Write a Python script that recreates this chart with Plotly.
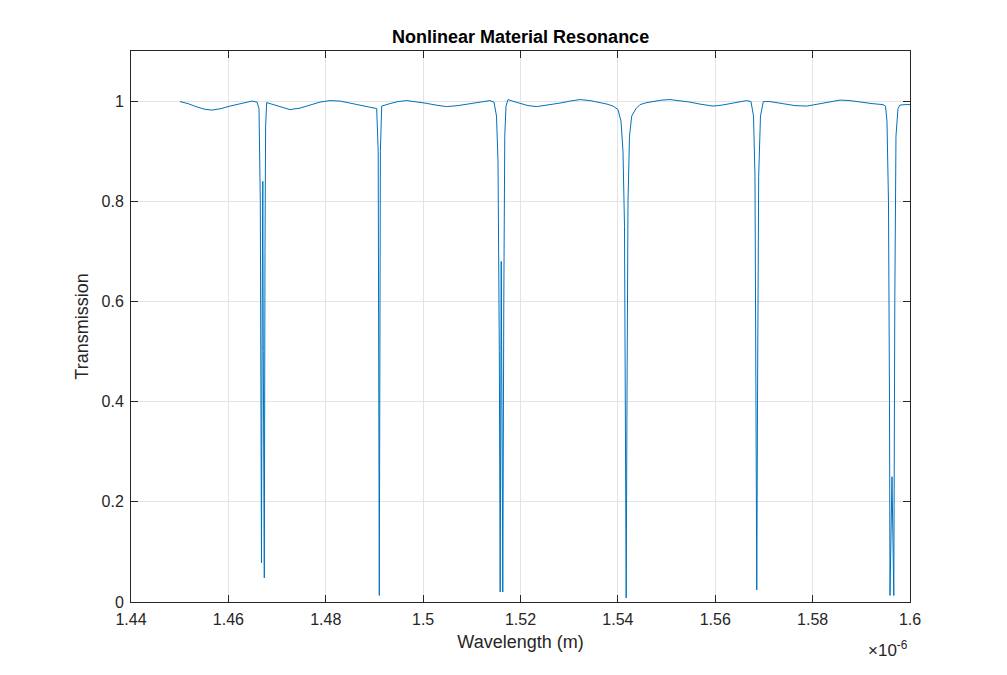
import plotly.graph_objects as go

# Wavelength in micrometres (axis shows x10^-6 m) and transmission
wavelength_um = [
    1.45006, 1.45171, 1.45335, 1.45499, 1.45664, 1.45849, 1.46033, 1.46198,
    1.46341, 1.46485, 1.46588, 1.46629, 1.46656, 1.46666, 1.46680, 1.46695,
    1.46707, 1.46717, 1.46738, 1.46752, 1.46765, 1.46787, 1.46855, 1.47060,
    1.47266, 1.47471, 1.47676, 1.47882, 1.48087, 1.48293, 1.48498, 1.48765,
    1.48909, 1.49046, 1.49077, 1.49100, 1.49122, 1.49149, 1.49320, 1.49484,
    1.49663, 1.49833, 1.50038, 1.50264, 1.50484, 1.50716, 1.50963, 1.51168,
    1.51373, 1.51456, 1.51507, 1.51538, 1.51565, 1.51583, 1.51604, 1.51624,
    1.51636, 1.51657, 1.51677, 1.51702, 1.51743, 1.51866, 1.51990, 1.52154,
    1.52333, 1.52565, 1.52811, 1.53017, 1.53222, 1.53427, 1.53633, 1.53777,
    1.53900, 1.54003, 1.54064, 1.54105, 1.54136, 1.54157, 1.54171, 1.54187,
    1.54208, 1.54239, 1.54284, 1.54372, 1.54454, 1.54598, 1.54762, 1.54906,
    1.55071, 1.55276, 1.55481, 1.55687, 1.55954, 1.56139, 1.56303, 1.56467,
    1.56646, 1.56734, 1.56786, 1.56816, 1.56841, 1.56853, 1.56868, 1.56892,
    1.56929, 1.56987, 1.57124, 1.57248, 1.57391, 1.57638, 1.57878, 1.57987,
    1.58151, 1.58357, 1.58562, 1.58768, 1.58973, 1.59219, 1.59445, 1.59497,
    1.59527, 1.59558, 1.59579, 1.59589, 1.59630, 1.59667, 1.59688, 1.59712,
    1.59753, 1.59794, 1.59897, 1.60000,
]
transmission = [
    0.999, 0.995, 0.989, 0.984, 0.982, 0.985, 0.990, 0.994,
    0.997, 1.000, 0.998, 0.985, 0.800, 0.450, 0.078, 0.600,
    0.840, 0.500, 0.048, 0.700, 0.950, 0.997, 0.995, 0.988,
    0.983, 0.986, 0.992, 0.998, 1.001, 1.000, 0.996, 0.990,
    0.987, 0.985, 0.900, 0.013, 0.900, 0.990, 0.995, 0.999,
    1.001, 0.999, 0.996, 0.992, 0.989, 0.991, 0.995, 0.999,
    1.001, 0.998, 0.970, 0.880, 0.500, 0.020, 0.680, 0.300,
    0.020, 0.600, 0.930, 0.990, 1.003, 0.999, 0.995, 0.991,
    0.989, 0.992, 0.996, 1.000, 1.003, 1.001, 0.997, 0.994,
    0.990, 0.983, 0.960, 0.900, 0.750, 0.400, 0.008, 0.400,
    0.800, 0.930, 0.970, 0.985, 0.993, 0.997, 1.000, 1.002,
    1.003, 1.001, 0.998, 0.994, 0.990, 0.992, 0.995, 0.998,
    1.001, 0.999, 0.970, 0.850, 0.400, 0.024, 0.400, 0.850,
    0.970, 0.999, 0.999, 0.997, 0.994, 0.991, 0.990, 0.992,
    0.995, 0.999, 1.002, 1.001, 0.998, 0.995, 0.993, 0.990,
    0.960, 0.800, 0.400, 0.013, 0.250, 0.013, 0.600, 0.930,
    0.985, 0.992, 0.993, 0.993,
]

x_tick_vals = [1.44, 1.46, 1.48, 1.50, 1.52, 1.54, 1.56, 1.58, 1.60]
x_tick_text = ["1.44", "1.46", "1.48", "1.5", "1.52", "1.54", "1.56", "1.58", "1.6"]
y_tick_vals = [0, 0.2, 0.4, 0.6, 0.8, 1.0]
y_tick_text = ["0", "0.2", "0.4", "0.6", "0.8", "1"]

FONT = "Liberation Sans, Arial, Helvetica, sans-serif"
AXIS_COLOR = "#262626"
GRID_COLOR = "#e3e3e3"

fig = go.Figure()
fig.add_trace(go.Scatter(
    x=wavelength_um, y=transmission, mode="lines",
    line=dict(color="#0072BD", width=1),
    showlegend=False, hoverinfo="skip",
))

axis_common = dict(
    showline=True, linecolor=AXIS_COLOR, linewidth=1, mirror="ticks",
    ticks="inside", ticklen=7, tickcolor=AXIS_COLOR, tickwidth=1,
    showgrid=True, gridcolor=GRID_COLOR, gridwidth=1, zeroline=False,
    tickfont=dict(family=FONT, size=16, color=AXIS_COLOR),
)

fig.update_layout(
    width=1007, height=675,
    margin=dict(l=131, r=97, t=51, b=73),
    paper_bgcolor="white", plot_bgcolor="white",
    title=dict(text="<b>Nonlinear Material Resonance</b>", x=0.517, xanchor="center",
               y=0.945, yanchor="middle",
               font=dict(family=FONT, size=18, color="#000000")),
    xaxis=dict(range=[1.44, 1.60], tickvals=x_tick_vals, ticktext=x_tick_text,
               ticklabelstandoff=3,
               title=dict(text="Wavelength (m)", standoff=8,
                          font=dict(family=FONT, size=18, color=AXIS_COLOR)),
               **axis_common),
    yaxis=dict(range=[0, 1.1], tickvals=y_tick_vals, ticktext=y_tick_text,
               ticklabelstandoff=3,
               title=dict(text="Transmission", standoff=8,
                          font=dict(family=FONT, size=18, color=AXIS_COLOR)),
               **axis_common),
    annotations=[dict(
        text="\u00d710<sup>-6</sup>", xref="paper", yref="paper",
        x=1.0, y=-0.062, xanchor="right", yanchor="top", showarrow=False,
        font=dict(family=FONT, size=17, color=AXIS_COLOR),
    )],
)

fig.write_html("out.html")
